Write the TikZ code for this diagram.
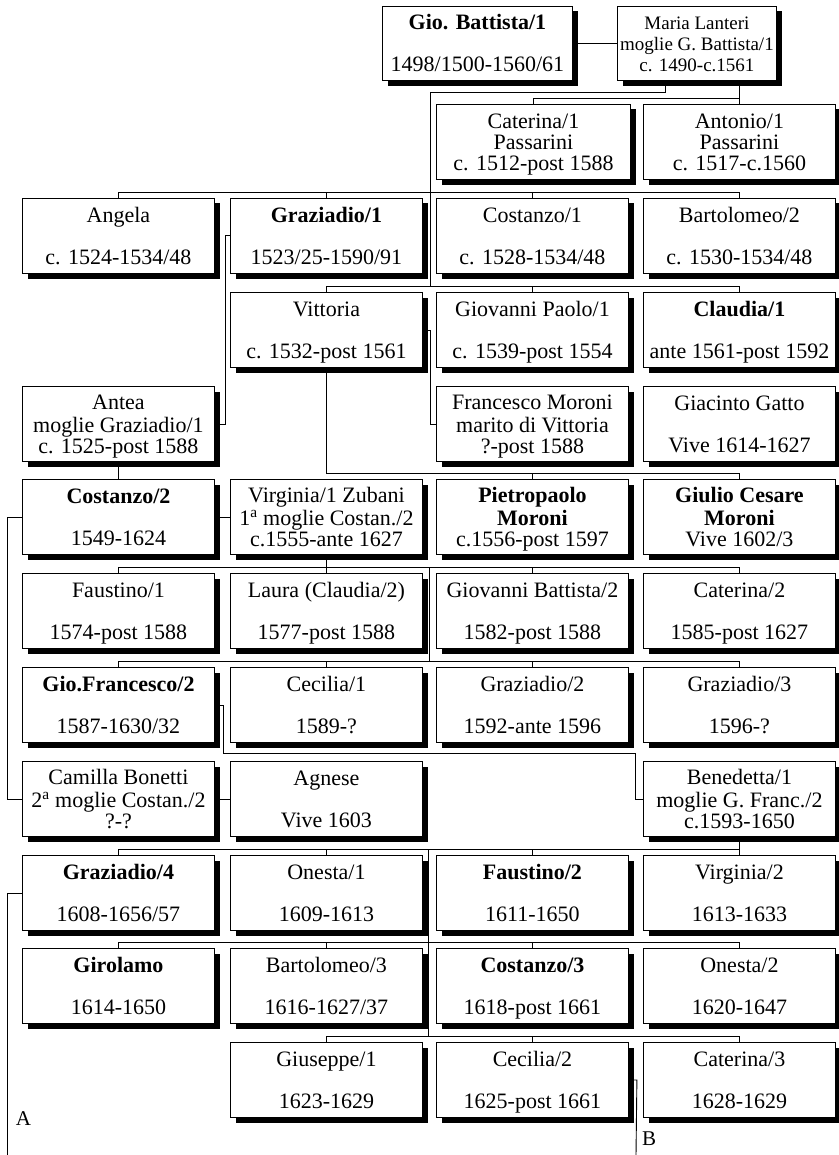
\documentclass[tikz,border=0pt]{standalone}
\usepackage{fontspec}
\setmainfont{Liberation Serif}
\usetikzlibrary{calc}
\pgfdeclarelayer{bgfill}
\pgfdeclarelayer{lines}
\pgfdeclarelayer{shade}
\pgfsetlayers{bgfill,lines,shade,main}
\tikzset{
  person/.style={draw=black, line width=0.9pt, fill=white, minimum width=192pt,
    minimum height=75pt, inner sep=0pt, anchor=north west, align=center,
    font=\fontsize{22}{21}\selectfont},
  link/.style={line width=0.9pt, draw=black},
  boxshadow/.style={fill=black},
  letter/.style={font=\fontsize{21}{21}\selectfont, inner sep=0pt}
}
\newcommand{\pp}[3]{\rule{0pt}{21.3pt}\strut #1\\\strut #2\\\strut #3}
\newcommand{\sa}{\smash{\textsuperscript{a}}}
\begin{document}
\begin{tikzpicture}[x=1pt, y=-1pt]
\begin{pgfonlayer}{bgfill}
\fill[white] (0,0) rectangle (838,1155);
\end{pgfonlayer}
\useasboundingbox (0,0) rectangle (838,1155);

% row 0
\node[person, minimum width=190pt, minimum height=74pt] (gio) at (382,6) {\pp{\textbf{Gio. Battista/1}}{}{1498/1500-1560/61}};
\node[person, minimum width=159pt, minimum height=74pt, font=\fontsize{19}{21}\selectfont] (maria) at (617,6) {\pp{Maria Lanteri}{moglie G. Battista/1}{c. 1490-c.1561}};
% row 1
\node[person, minimum width=194pt] (caterina1) at (436,104) {\pp{Caterina/1}{Passarini}{c. 1512-post 1588}};
\node[person] (antonio1) at (643,104) {\pp{Antonio/1}{Passarini}{c. 1517-c.1560}};
% row 2
\node[person] (angela) at (22,198) {\pp{Angela}{}{c. 1524-1534/48}};
\node[person] (graziadio1) at (230,198) {\pp{\textbf{Graziadio/1}}{}{1523/25-1590/91}};
\node[person] (costanzo1) at (436,198) {\pp{Costanzo/1}{}{c. 1528-1534/48}};
\node[person] (bartolomeo2) at (643,198) {\pp{Bartolomeo/2}{}{c. 1530-1534/48}};
% row 3
\node[person] (vittoria) at (230,292) {\pp{Vittoria}{}{c. 1532-post 1561}};
\node[person] (giovannipaolo1) at (436,292) {\pp{Giovanni Paolo/1}{}{c. 1539-post 1554}};
\node[person] (claudia1) at (643,292) {\pp{\textbf{Claudia/1}}{}{ante 1561-post 1592}};
% row 4
\node[person] (antea) at (22,386) {\pp{Antea}{moglie Graziadio/1}{c. 1525-post 1588}};
\node[person] (francesco) at (436,386) {\pp{Francesco Moroni}{marito di Vittoria}{?-post 1588}};
\node[person] (giacinto) at (643,386) {\pp{Giacinto Gatto}{}{Vive 1614-1627}};
% row 5
\node[person] (costanzo2) at (22,479) {\pp{\textbf{Costanzo/2}}{}{1549-1624}};
\node[person] (virginia1) at (230,479) {\pp{Virginia/1 Zubani}{1\sa\ moglie Costan./2}{c.1555-ante 1627}};
\node[person] (pietropaolo) at (436,479) {\pp{\textbf{Pietropaolo}}{\textbf{Moroni}}{c.1556-post 1597}};
\node[person] (giulio) at (643,479) {\pp{\textbf{Giulio Cesare}}{\textbf{Moroni}}{Vive 1602/3}};
% row 6
\node[person] (faustino1) at (22,573) {\pp{Faustino/1}{}{1574-post 1588}};
\node[person] (laura) at (230,573) {\pp{Laura (Claudia/2)}{}{1577-post 1588}};
\node[person] (giovannibattista2) at (436,573) {\pp{Giovanni Battista/2}{}{1582-post 1588}};
\node[person] (caterina2) at (643,573) {\pp{Caterina/2}{}{1585-post 1627}};
% row 7
\node[person] (giofrancesco2) at (22,667) {\pp{\textbf{Gio.Francesco/2}}{}{1587-1630/32}};
\node[person] (cecilia1) at (230,667) {\pp{Cecilia/1}{}{1589-?}};
\node[person] (graziadio2) at (436,667) {\pp{Graziadio/2}{}{1592-ante 1596}};
\node[person] (graziadio3) at (643,667) {\pp{Graziadio/3}{}{1596-?}};
% row 8
\node[person] (camilla) at (22,761) {\pp{Camilla Bonetti}{2\sa\ moglie Costan./2}{?-?}};
\node[person] (agnese) at (230,761) {\pp{Agnese}{}{Vive 1603}};
\node[person] (benedetta) at (643,761) {\pp{Benedetta/1}{moglie G. Franc./2}{c.1593-1650}};
% row 9
\node[person] (graziadio4) at (22,855) {\pp{\textbf{Graziadio/4}}{}{1608-1656/57}};
\node[person] (onesta1) at (230,855) {\pp{Onesta/1}{}{1609-1613}};
\node[person] (faustino2) at (436,855) {\pp{\textbf{Faustino/2}}{}{1611-1650}};
\node[person] (virginia2) at (643,855) {\pp{Virginia/2}{}{1613-1633}};
% row 10
\node[person] (girolamo) at (22,948) {\pp{\textbf{Girolamo}}{}{1614-1650}};
\node[person] (bartolomeo3) at (230,948) {\pp{Bartolomeo/3}{}{1616-1627/37}};
\node[person] (costanzo3) at (436,948) {\pp{\textbf{Costanzo/3}}{}{1618-post 1661}};
\node[person] (onesta2) at (643,948) {\pp{Onesta/2}{}{1620-1647}};
% row 11
\node[person] (giuseppe1) at (230,1042) {\pp{Giuseppe/1}{}{1623-1629}};
\node[person] (cecilia2) at (436,1042) {\pp{Cecilia/2}{}{1625-post 1661}};
\node[person] (caterina3) at (643,1042) {\pp{Caterina/3}{}{1628-1629}};

\node[letter] (labA) at (23.5,1119) {A};
\node[letter] (labB) at (649,1139) {B};

% shadows
\begin{pgfonlayer}{shade}
\foreach \n in {gio,maria,caterina1,antonio1,angela,graziadio1,costanzo1,bartolomeo2,
  vittoria,giovannipaolo1,claudia1,antea,francesco,giacinto,costanzo2,virginia1,
  pietropaolo,giulio,faustino1,laura,giovannibattista2,caterina2,giofrancesco2,
  cecilia1,graziadio2,graziadio3,camilla,agnese,benedetta,graziadio4,onesta1,
  faustino2,virginia2,girolamo,bartolomeo3,costanzo3,onesta2,giuseppe1,cecilia2,caterina3}
  \fill[boxshadow] ([shift={(5.5pt,-5.5pt)}]\n.north west) rectangle ([shift={(5.5pt,-5.5pt)}]\n.south east);
\end{pgfonlayer}

\begin{pgfonlayer}{lines}
\coordinate (t1) at (430,286);
\coordinate (j6) at (429,567);
\coordinate (j7) at (429,661);
\coordinate (j9) at (428,849);
\coordinate (j11) at (428,1036);
\coordinate (aend) at (7,1155);
\coordinate (bend) at (636,1155);
\draw[link] (gio.east) -- (maria.west);
\draw[link] (maria.south -| antonio1.north) -- (antonio1.north);
\draw[link] (caterina1.north) -- ++(0,-6) -| (antonio1.north);
\draw[link] ($(maria.south west)+(48,0)$) -- ++(0,12) -| (t1);
\draw[link] (angela.north) -- ++(0,-6) -| (bartolomeo2.north);
\draw[link] (graziadio1.north) -- ++(0,-6);
\draw[link] (costanzo1.north) -- ++(0,-6);
\draw[link] (vittoria.north) -- ++(0,-6) -| (claudia1.north);
\draw[link] (giovannipaolo1.north) -- ++(0,-6);
\draw[link] (graziadio1.west) -- ++(-5,0) |- (antea.east);
\draw[link] (vittoria.east) -- ++(8,0) |- (francesco.west);
\draw[link] (vittoria.south) |- ([yshift=6pt]giulio.north) -- (giulio.north);
\draw[link] (pietropaolo.north) -- ++(0,-6);
\draw[link] (antea.south) -- (costanzo2.north);
\draw[link] (costanzo2.east) -- (virginia1.west);
\draw[link] (costanzo2.west) -- ++(-15,0) |- (camilla.west);
\draw[link] (virginia1.south) -- (laura.north);
\draw[link] (faustino1.north) -- ++(0,-6) -| (caterina2.north);
\draw[link] (giovannibattista2.north) -- ++(0,-6);
\draw[link] (j6) -- (j7);
\draw[link] (giofrancesco2.north) -- ++(0,-6) -| (graziadio3.north);
\draw[link] (cecilia1.north) -- ++(0,-6);
\draw[link] (graziadio2.north) -- ++(0,-6);
\draw[link] (giofrancesco2.east) -- ++(9,0) -- ++(0,48.5) -| ([xshift=-8pt]benedetta.west) -- (benedetta.west);
\draw[link] (camilla.east) -- (agnese.west);
\draw[link] (benedetta.south) -- (virginia2.north);
\draw[link] (graziadio4.north) -- ++(0,-6) -| (virginia2.north);
\draw[link] (onesta1.north) -- ++(0,-6);
\draw[link] (faustino2.north) -- ++(0,-6);
\draw[link] (j9) -- (j11);
\draw[link] (girolamo.north) -- ++(0,-6) -| (onesta2.north);
\draw[link] (bartolomeo3.north) -- ++(0,-6);
\draw[link] (costanzo3.north) -- ++(0,-6);
\draw[link] (giuseppe1.north) -- ++(0,-6) -| (caterina3.north);
\draw[link] (cecilia2.north) -- ++(0,-6);
\draw[link] (graziadio4.west) -- ++(-15,0) -- (aend);
\draw[link] (cecilia2.east) -- ++(8,0) -- (bend);
\end{pgfonlayer}
\end{tikzpicture}
\end{document}
